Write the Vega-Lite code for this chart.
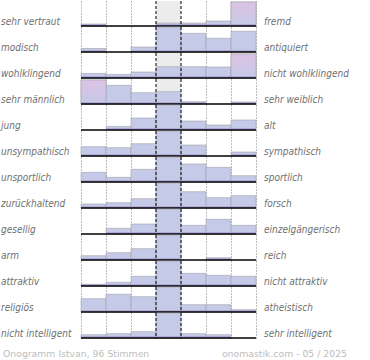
{
  "$schema": "https://vega.github.io/schema/vega-lite/v6.json",
  "padding": 0,
  "background": "white",
  "bounds": "flush",
  "datasets": {
    "bars": [
      {"r":1,"c":1,"v":2},{"r":1,"c":2,"v":0},{"r":1,"c":3,"v":0},{"r":1,"c":4,"v":3},{"r":1,"c":5,"v":3},{"r":1,"c":6,"v":5},{"r":1,"c":7,"v":24},
      {"r":2,"c":1,"v":3.5},{"r":2,"c":2,"v":0},{"r":2,"c":3,"v":5},{"r":2,"c":4,"v":25},{"r":2,"c":5,"v":18.7},{"r":2,"c":6,"v":13.7},{"r":2,"c":7,"v":20.7},
      {"r":3,"c":1,"v":4.6},{"r":3,"c":2,"v":3.6},{"r":3,"c":3,"v":6},{"r":3,"c":4,"v":11.3},{"r":3,"c":5,"v":11.3},{"r":3,"c":6,"v":11},{"r":3,"c":7,"v":24},
      {"r":4,"c":1,"v":24},{"r":4,"c":2,"v":18.7},{"r":4,"c":3,"v":11.3},{"r":4,"c":4,"v":12.3},{"r":4,"c":5,"v":2.3},{"r":4,"c":6,"v":0},{"r":4,"c":7,"v":2},
      {"r":5,"c":1,"v":0},{"r":5,"c":2,"v":3.6},{"r":5,"c":3,"v":12},{"r":5,"c":4,"v":25},{"r":5,"c":5,"v":9},{"r":5,"c":6,"v":5},{"r":5,"c":7,"v":10},
      {"r":6,"c":1,"v":9.3},{"r":6,"c":2,"v":8.3},{"r":6,"c":3,"v":12.3},{"r":6,"c":4,"v":25},{"r":6,"c":5,"v":11},{"r":6,"c":6,"v":0},{"r":6,"c":7,"v":4},
      {"r":7,"c":1,"v":9.7},{"r":7,"c":2,"v":4.7},{"r":7,"c":3,"v":12.7},{"r":7,"c":4,"v":25},{"r":7,"c":5,"v":18},{"r":7,"c":6,"v":14.7},{"r":7,"c":7,"v":6.3},
      {"r":8,"c":1,"v":4},{"r":8,"c":2,"v":5.3},{"r":8,"c":3,"v":9.3},{"r":8,"c":4,"v":25},{"r":8,"c":5,"v":16.3},{"r":8,"c":6,"v":10.3},{"r":8,"c":7,"v":12.3},
      {"r":9,"c":1,"v":0},{"r":9,"c":2,"v":5.7},{"r":9,"c":3,"v":10},{"r":9,"c":4,"v":25},{"r":9,"c":5,"v":8.7},{"r":9,"c":6,"v":14.7},{"r":9,"c":7,"v":8.7},
      {"r":10,"c":1,"v":4.3},{"r":10,"c":2,"v":7.3},{"r":10,"c":3,"v":11.3},{"r":10,"c":4,"v":25},{"r":10,"c":5,"v":0},{"r":10,"c":6,"v":2.3},{"r":10,"c":7,"v":0},
      {"r":11,"c":1,"v":1.7},{"r":11,"c":2,"v":3.7},{"r":11,"c":3,"v":9.7},{"r":11,"c":4,"v":25},{"r":11,"c":5,"v":12.7},{"r":11,"c":6,"v":10.7},{"r":11,"c":7,"v":9.7},
      {"r":12,"c":1,"v":13.3},{"r":12,"c":2,"v":17.7},{"r":12,"c":3,"v":15.3},{"r":12,"c":4,"v":25},{"r":12,"c":5,"v":7.3},{"r":12,"c":6,"v":7.3},{"r":12,"c":7,"v":2.3},
      {"r":13,"c":1,"v":3.3},{"r":13,"c":2,"v":4.3},{"r":13,"c":3,"v":6.3},{"r":13,"c":4,"v":25},{"r":13,"c":5,"v":4.3},{"r":13,"c":6,"v":3.3},{"r":13,"c":7,"v":0}
    ],
    "terms": [
      {"r":1,"left":"sehr vertraut","right":"fremd"},
      {"r":2,"left":"modisch","right":"antiquiert"},
      {"r":3,"left":"wohlklingend","right":"nicht wohlklingend"},
      {"r":4,"left":"sehr männlich","right":"sehr weiblich"},
      {"r":5,"left":" jung","right":"alt"},
      {"r":6,"left":"unsympathisch","right":"sympathisch"},
      {"r":7,"left":"unsportlich","right":"sportlich"},
      {"r":8,"left":"zurückhaltend","right":"forsch"},
      {"r":9,"left":"gesellig","right":"einzelgängerisch"},
      {"r":10,"left":"arm","right":"reich"},
      {"r":11,"left":"attraktiv","right":"nicht attraktiv"},
      {"r":12,"left":"religiös","right":"atheistisch"},
      {"r":13,"left":"nicht intelligent","right":"sehr intelligent"}
    ]
  },
  "data": {"name": "bars"},
  "transform": [
    {"lookup": "r", "from": {"data": {"name": "terms"}, "key": "r", "fields": ["left", "right"]}}
  ],
  "facet": {"row": {"field": "r", "type": "ordinal", "header": null}},
  "spacing": 0,
  "spec": {
    "width": 175,
    "height": 26,
    "layer": [
      {
        "transform": [{"filter": "datum.c == 1"}],
        "mark": {"type": "rect", "color": "#ececec"},
        "encoding": {
          "x": {"datum": 3.5, "type": "quantitative", "scale": {"domain": [0.5, 7.5], "nice": false, "zero": false, "padding": 0},
                "axis": {"values": [0.5, 1.5, 2.5, 5.5, 6.5, 7.5], "grid": true, "gridDash": [1, 2], "gridColor": "#7a7a7a", "gridWidth": 1, "labels": false, "ticks": false, "domain": false, "title": null}},
          "x2": {"datum": 4.5}
        }
      },
      {
        "transform": [{"filter": "datum.v > 0"}],
        "mark": {"type": "bar", "width": 25, "color": "#c5cae8", "stroke": "#a2a2a8", "strokeWidth": 0.6},
        "encoding": {
          "x": {"field": "c", "type": "quantitative", "scale": {"domain": [0.5, 7.5], "nice": false, "zero": false, "padding": 0},
                "axis": {"values": [0.5, 1.5, 2.5, 5.5, 6.5, 7.5], "grid": true, "gridDash": [1, 2], "gridColor": "#7a7a7a", "gridWidth": 1, "labels": false, "ticks": false, "domain": false, "title": null}},
          "y": {"field": "v", "type": "quantitative", "scale": {"domain": [-1, 25], "nice": false, "zero": false, "padding": 0}, "axis": null}
        }
      },
      {
        "transform": [{"filter": "datum.v >= 23 && datum.c != 4"}],
        "mark": {"type": "bar", "width": 25, "stroke": "#a2a2a8", "strokeWidth": 0.6,
                 "fill": {"gradient": "linear", "x1": 0, "y1": 0, "x2": 0, "y2": 1,
                          "stops": [{"offset": 0, "color": "#dcc3e4"}, {"offset": 0.6, "color": "#cfc6e6"}, {"offset": 1, "color": "#c5cae8"}]}},
        "encoding": {
          "x": {"field": "c", "type": "quantitative",
                "axis": {"values": [0.5, 1.5, 2.5, 5.5, 6.5, 7.5], "grid": true, "gridDash": [1, 2], "gridColor": "#7a7a7a", "gridWidth": 1, "labels": false, "ticks": false, "domain": false, "title": null}},
          "y": {"field": "v", "type": "quantitative", "axis": null}
        }
      },
      {
        "transform": [{"filter": "datum.v > 0"}],
        "mark": {"type": "bar", "width": 25, "color": "#a99dd1", "opacity": 0.85},
        "encoding": {
          "x": {"field": "c", "type": "quantitative",
                "axis": {"values": [0.5, 1.5, 2.5, 5.5, 6.5, 7.5], "grid": true, "gridDash": [1, 2], "gridColor": "#7a7a7a", "gridWidth": 1, "labels": false, "ticks": false, "domain": false, "title": null}},
          "y": {"datum": 1.8, "type": "quantitative", "axis": null},
          "y2": {"datum": 0}
        }
      },
      {
        "transform": [{"filter": "datum.c == 1"}],
        "mark": {"type": "rule", "color": "#000000", "strokeDash": [3, 2], "strokeWidth": 1},
        "encoding": {
          "x": {"datum": 3.5, "type": "quantitative",
                "axis": {"values": [0.5, 1.5, 2.5, 5.5, 6.5, 7.5], "grid": true, "gridDash": [1, 2], "gridColor": "#7a7a7a", "gridWidth": 1, "labels": false, "ticks": false, "domain": false, "title": null}}
        }
      },
      {
        "transform": [{"filter": "datum.c == 1"}],
        "mark": {"type": "rule", "color": "#000000", "strokeDash": [3, 2], "strokeWidth": 1},
        "encoding": {
          "x": {"datum": 4.5, "type": "quantitative",
                "axis": {"values": [0.5, 1.5, 2.5, 5.5, 6.5, 7.5], "grid": true, "gridDash": [1, 2], "gridColor": "#7a7a7a", "gridWidth": 1, "labels": false, "ticks": false, "domain": false, "title": null}}
        }
      },
      {
        "transform": [{"filter": "datum.c == 1"}],
        "mark": {"type": "rule", "color": "#000000", "strokeWidth": 1.3},
        "encoding": {
          "y": {"datum": 0, "type": "quantitative", "axis": null}
        }
      },
      {
        "transform": [{"filter": "datum.c == 1"}],
        "mark": {"type": "text", "align": "left", "baseline": "alphabetic", "font": "DejaVu Sans Condensed", "fontStyle": "italic", "fontSize": 10, "color": "#707070"},
        "encoding": {
          "x": {"datum": -2.7, "type": "quantitative",
                "axis": {"values": [0.5, 1.5, 2.5, 5.5, 6.5, 7.5], "grid": true, "gridDash": [1, 2], "gridColor": "#7a7a7a", "gridWidth": 1, "labels": false, "ticks": false, "domain": false, "title": null}},
          "y": {"datum": 1, "type": "quantitative", "axis": null},
          "text": {"field": "left"}
        }
      },
      {
        "transform": [{"filter": "datum.c == 1"}],
        "mark": {"type": "text", "align": "left", "baseline": "alphabetic", "font": "DejaVu Sans Condensed", "fontStyle": "italic", "fontSize": 10, "color": "#707070"},
        "encoding": {
          "x": {"datum": 7.82, "type": "quantitative",
                "axis": {"values": [0.5, 1.5, 2.5, 5.5, 6.5, 7.5], "grid": true, "gridDash": [1, 2], "gridColor": "#7a7a7a", "gridWidth": 1, "labels": false, "ticks": false, "domain": false, "title": null}},
          "y": {"datum": 1, "type": "quantitative", "axis": null},
          "text": {"field": "right"}
        }
      },
      {
        "transform": [{"filter": "datum.c == 1 && datum.r == 13"}],
        "mark": {"type": "text", "align": "left", "baseline": "alphabetic", "font": "DejaVu Sans", "fontSize": 9.3, "color": "#bdbdbd", "text": "Onogramm Istvan, 96 Stimmen"},
        "encoding": {
          "x": {"datum": -2.62, "type": "quantitative",
                "axis": {"values": [0.5, 1.5, 2.5, 5.5, 6.5, 7.5], "grid": true, "gridDash": [1, 2], "gridColor": "#7a7a7a", "gridWidth": 1, "labels": false, "ticks": false, "domain": false, "title": null}},
          "y": {"datum": -19, "type": "quantitative", "axis": null}
        }
      },
      {
        "transform": [{"filter": "datum.c == 1 && datum.r == 13"}],
        "mark": {"type": "text", "align": "right", "baseline": "alphabetic", "font": "DejaVu Sans", "fontSize": 9.3, "color": "#bdbdbd", "text": "onomastik.com - 05 / 2025"},
        "encoding": {
          "x": {"datum": 11.14, "type": "quantitative",
                "axis": {"values": [0.5, 1.5, 2.5, 5.5, 6.5, 7.5], "grid": true, "gridDash": [1, 2], "gridColor": "#7a7a7a", "gridWidth": 1, "labels": false, "ticks": false, "domain": false, "title": null}},
          "y": {"datum": -19, "type": "quantitative", "axis": null}
        }
      }
    ]
  },
  "config": {"view": {"stroke": null}}
}
